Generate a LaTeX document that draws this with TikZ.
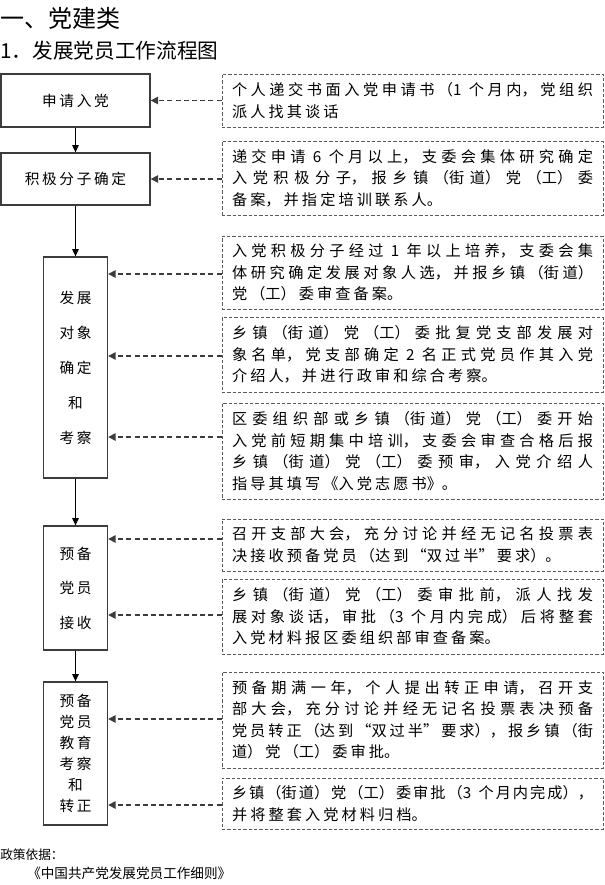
\documentclass[tikz,border=0pt]{standalone}
\usepackage{fontspec}
\setmainfont{Noto Sans CJK SC}
\newfontfamily\cjk{Noto Sans CJK SC}
\newfontfamily\cjkls[LetterSpace=18]{Noto Sans CJK SC}
\usetikzlibrary{arrows.meta}
\XeTeXlinebreaklocale "zh"
\XeTeXlinebreakskip=0pt plus 10pt
\tolerance=10000
\hbadness=10000
\hfuzz=20pt
\setlength{\parindent}{0pt}
\newcommand{\tightline}[1]{{\XeTeXlinebreakskip=0pt plus 10pt #1}}
\newcommand{\gap}{\kern5.5pt\relax}
\definecolor{linegray}{RGB}{60,60,60}
\definecolor{boxgray}{RGB}{90,90,90}
\tikzset{
  lbox/.style={draw=linegray, line width=1pt, inner sep=0pt,
    font=\cjkls\fontsize{11}{16.1}\selectfont},
  dbox/.style={draw=boxgray, line width=0.75pt, dash pattern=on 2.4pt off 1.6pt,
    minimum width=285.75pt, text width=270.75pt, inner xsep=7.5pt, inner ysep=0pt,
    align=justify,
    font={\cjk\fontsize{11.4}{16.1}\selectfont\XeTeXlinebreakskip=2.3pt plus 10pt minus 2pt\relax}},
  darrow/.style={draw=linegray, line width=1.1pt, dash pattern=on 3.75pt off 2.4pt,
    -{Triangle[length=5.5pt,width=5.5pt]}},
  sarrow/.style={draw=black, line width=0.75pt, -{Triangle[length=5.5pt,width=5pt]}},
  title/.style={anchor=west, inner sep=0pt},
}
\begin{document}
\begin{tikzpicture}[x=0.75pt, y=-0.75pt]
\fill[white] (0,0) rectangle (605,885);
\useasboundingbox (0,0) rectangle (605,885);

% titles
\node[title, font=\cjk\fontsize{18}{21}\selectfont] (t1) at (0,18) {一、党建类};
\node[title, font=\cjk\fontsize{15.5}{19}\selectfont] (t2) at (0,51) {1．发展党员工作流程图};

% left boxes
\node[lbox, minimum width=111.75pt, minimum height=39.75pt] (A) at (75.5,100.5) {申请入党};
\node[lbox, minimum width=111.75pt, minimum height=39pt] (B) at (75.5,179) {积极分子确定};
\node[lbox, minimum width=48pt, minimum height=165.75pt, align=center,
  font=\cjkls\fontsize{11}{26.25}\selectfont] (C) at (75.5,367.5) {发展\\对象\\确定\\和\\考察};
\node[lbox, minimum width=48pt, minimum height=93pt, align=center,
  font=\cjkls\fontsize{11}{25.9}\selectfont] (D) at (75.5,588) {预备\\党员\\接收};
\node[lbox, minimum width=48pt, minimum height=107.25pt, align=center,
  font=\cjkls\fontsize{11}{15.75}\selectfont] (E) at (75.5,753.5) {预备\\党员\\教育\\考察\\和\\转正};

% dashed text boxes
\node[dbox, minimum height=39.75pt] (d1) at (412.5,100.5)
  {个人递交书面入党申请书（1\gap 个月内，党组织\linebreak 派人找其谈话};
\node[dbox, minimum height=55.5pt] (d2) at (412.5,178)
  {递交申请\gap 6\gap 个月以上，支委会集体研究确定\linebreak 入党积极分子，报乡镇（街道）党（工）委\linebreak 备案，并指定培训联系人。};
\node[dbox, minimum height=54.75pt] (d3) at (412.5,272.5)
  {入党积极分子经过\gap 1\gap 年以上培养，支委会集\linebreak 体研究确定发展对象人选，并报乡镇（街道）\linebreak 党（工）委审查备案。};
\node[dbox, minimum height=56.25pt] (d4) at (412.5,354.5)
  {乡镇（街道）党（工）委批复党支部发展对\linebreak 象名单，党支部确定\gap 2\gap 名正式党员作其入党\linebreak 介绍人，并进行政审和综合考察。};
\node[dbox, minimum height=72pt] (d5) at (412.5,451)
  {区委组织部或乡镇（街道）党（工）委开始\linebreak 入党前短期集中培训，支委会审查合格后报\linebreak 乡镇（街道）党（工）委预审，入党介绍人\linebreak 指导其填写《入党志愿书》。};
\node[dbox, minimum height=39pt] (d6) at (412.5,545)
  {召开支部大会，充分讨论并经无记名投票表\linebreak 决接收预备党员（达到“双过半”要求）。};
\node[dbox, minimum height=56.25pt] (d7) at (412.5,616.5)
  {乡镇（街道）党（工）委审批前，派人找发\linebreak \tightline{展对象谈话，审批（3\gap 个月内完成）后将整套}\linebreak 入党材料报区委组织部审查备案。};
\node[dbox, minimum height=72pt] (d8) at (412.5,720)
  {预备期满一年，个人提出转正申请，召开支\linebreak 部大会，充分讨论并经无记名投票表决预备\linebreak \tightline{党员转正（达到“双过半”要求），报乡镇（街}\linebreak 道）党（工）委审批。};
\node[dbox, minimum height=38.25pt] (d9) at (412.5,803.5)
  {\tightline{乡镇（街道）党（工）委审批（3\gap 个月内完成），}\linebreak 并将整套入党材料归档。};

% arrow levels
\coordinate (yA) at (0,100.5);
\coordinate (yB) at (0,179);
\coordinate (yC1) at (0,274);
\coordinate (yC2) at (0,356);
\coordinate (yC3) at (0,437);
\coordinate (yD1) at (0,539);
\coordinate (yD2) at (0,615);
\coordinate (yE1) at (0,719);
\coordinate (yE2) at (0,805);

% dashed arrows
\draw[darrow] (d1.west |- yA) -- (A.east |- yA);
\draw[darrow] (d2.west |- yB) -- (B.east |- yB);
\draw[darrow] (d3.west |- yC1) -- (C.east |- yC1);
\draw[darrow] (d4.west |- yC2) -- (C.east |- yC2);
\draw[darrow] (d5.west |- yC3) -- (C.east |- yC3);
\draw[darrow] (d6.west |- yD1) -- (D.east |- yD1);
\draw[darrow] (d7.west |- yD2) -- (D.east |- yD2);
\draw[darrow] (d8.west |- yE1) -- (E.east |- yE1);
\draw[darrow] (d9.west |- yE2) -- (E.east |- yE2);

% solid arrows
\draw[sarrow] (A.south) -- (B.north);
\draw[sarrow] (B.south) -- (C.north);
\draw[sarrow] (C.south) -- (D.north);
\draw[sarrow] (D.south) -- (E.north);

% footer
\node[title, font=\cjk\fontsize{9.5}{12}\selectfont] (f1) at (0,855) {政策依据：};
\node[title, font=\cjk\fontsize{10.2}{12}\selectfont] (f2) at (27,873) {《中国共产党发展党员工作细则》};
\end{tikzpicture}
\end{document}
